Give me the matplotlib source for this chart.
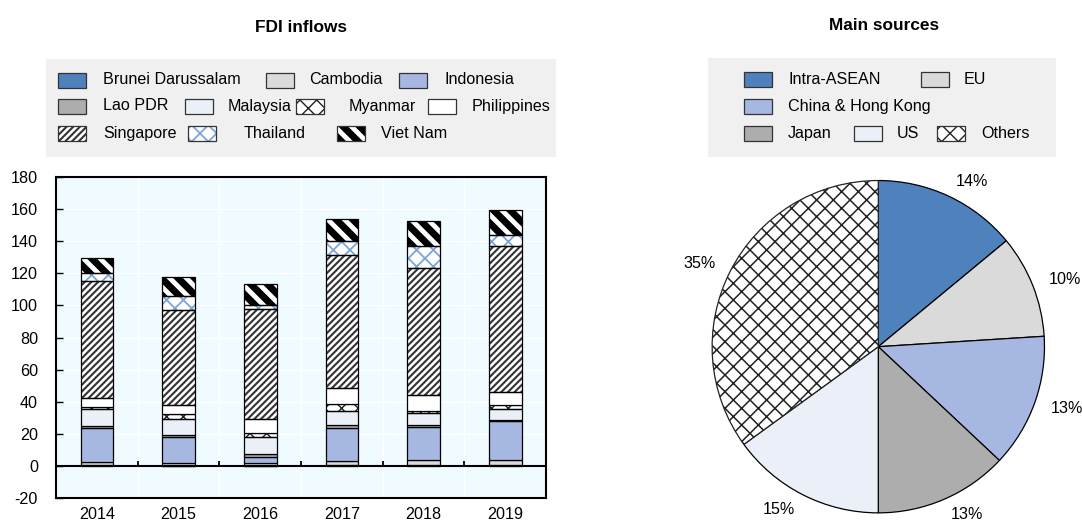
import matplotlib
matplotlib.use("Agg")
import matplotlib.pyplot as plt
from matplotlib.patches import Rectangle
from matplotlib import font_manager
import numpy as np

# ---------------- data ----------------
years = ["2014", "2015", "2016", "2017", "2018", "2019"]
countries = ["Brunei Darussalam", "Cambodia", "Indonesia", "Lao PDR", "Malaysia",
             "Myanmar", "Philippines", "Singapore", "Thailand", "Viet Nam"]
brunei = [0.6, 0.2, 0.0, 0.5, 0.5, 0.4]
cambodia = [1.9, 1.6, 2.1, 2.8, 3.2, 3.7]
indonesia = [21.5, 16.4, 3.7, 20.7, 20.6, 23.9]
lao = [1.0, 1.1, 1.5, 1.3, 1.1, 0.6]
malaysia = [10.5, 10.3, 10.9, 9.3, 7.8, 7.1]
myanmar = [1.1, 2.7, 2.7, 4.2, 1.4, 2.6]
philippines = [5.9, 6.0, 8.7, 10.1, 9.8, 7.9]
singapore = [72.5, 58.5, 68.2, 82.7, 78.9, 91.0]
thailand = [5.2, 9.1, 2.7, 8.3, 13.3, 6.3]
vietnam = [9.3, 11.8, 12.9, 14.1, 15.6, 16.1]
series = [brunei, cambodia, indonesia, lao, malaysia, myanmar, philippines,
          singapore, thailand, vietnam]

sources = ["Intra-ASEAN", "EU", "China & Hong Kong", "Japan", "US", "Others"]
shares = [14, 10, 13, 13, 15, 35]
share_labels = ["14%", "10%", "13%", "13%", "15%", "35%"]

yticks = list(range(-20, 181, 20))

# ---------------- styles ----------------
avail = {f.name for f in font_manager.fontManager.ttflist}
FONT = "Liberation Sans Narrow" if "Liberation Sans Narrow" in avail else "Liberation Sans"
plt.rcParams["font.family"] = [FONT, "DejaVu Sans"]
plt.rcParams["axes.unicode_minus"] = False
FS = 13.4 if FONT == "Liberation Sans Narrow" else 11.6
FT = FS + 0.8

# (facecolor, hatch, hatchcolor, hatch linewidth)
styles = {
    "Brunei Darussalam": ("#4f81bd", None, None, 1),
    "Cambodia": ("#dadada", None, None, 1),
    "Indonesia": ("#a6b8e2", None, None, 1),
    "Lao PDR": ("#adadad", None, None, 1),
    "Malaysia": ("#ebeff8", None, None, 1),
    "Myanmar": ("white", "xx", "#222222", 1.0),
    "Philippines": ("white", None, None, 1),
    "Singapore": ("white", "/////", "#333333", 1.5),
    "Thailand": ("white", "xx", "#7da4d8", 1.3),
    "Viet Nam": ("white", "\\\\", "black", 5.0),
}
pie_colors = ["#4f81bd", "#dadada", "#a6b8e2", "#adadad", "#ebeff8", "white"]

W, H = 1082, 525
fig = plt.figure(figsize=(W / 100, H / 100), dpi=100)


def fx(px):
    return px / W


def fy(py):
    return 1 - py / H


def set_hlw(p, lw):
    try:
        p.set_hatch_linewidth(lw)
    except Exception:
        pass


# ---------------- bar chart ----------------
ax = fig.add_axes([fx(56), fy(498.3), (546 - 56) / W, (498.3 - 176.7) / H])
ax.set_facecolor("#f0fbff")
x = np.arange(len(years))
bottom = np.zeros(len(years))
for name, vals in zip(countries, series):
    fc, hatch, hc, hlw = styles[name]
    vals = np.array(vals, dtype=float)
    if hatch:
        plt.rcParams["hatch.linewidth"] = hlw
        bars = ax.bar(x, vals, 0.4, bottom=bottom, facecolor=fc, edgecolor=hc,
                      linewidth=0, hatch=hatch, zorder=2)
        for b in bars:
            set_hlw(b, hlw)
        ax.bar(x, vals, 0.4, bottom=bottom, fill=False, edgecolor="black",
               linewidth=0.9, zorder=3)
    else:
        ax.bar(x, vals, 0.4, bottom=bottom, facecolor=fc, edgecolor="black",
               linewidth=0.9, zorder=3)
    bottom += vals

ax.set_xlim(-0.5, len(years) - 0.5)
ax.set_ylim(-20, 180)
ax.set_yticks(yticks)
ax.set_xticks(x, years)
ax.set_xticks(x[:-1] + 0.5, minor=True)
ax.tick_params(axis="y", direction="in", length=5, width=1, pad=13, labelsize=FS)
ax.tick_params(axis="x", which="both", length=0, pad=6, labelsize=FS)
ax.set_axisbelow(True)
ax.yaxis.grid(True, color="white", linewidth=1)
ax.xaxis.grid(True, which="minor", color="white", linewidth=1)
ax.axhline(0, color="black", linewidth=1.5, zorder=4)
ax.vlines(x[:-1] + 0.5, 0, 3.5, color="black", linewidth=1.3, zorder=4)
for s in ax.spines.values():
    s.set_linewidth(1.5)
    s.set_color("black")

fig.text(fx(301), fy(28), "FDI inflows", ha="center", va="center",
         fontsize=FT, fontweight="bold")

# ---------------- legends ----------------
PW, PH = 28, 15


def legend_item(px, py, tx, label, fc, hatch=None, hc=None, hlw=1.0):
    if hatch:
        plt.rcParams["hatch.linewidth"] = hlw
        r = Rectangle((fx(px), fy(py + PH / 2)), PW / W, PH / H, transform=fig.transFigure,
                      facecolor=fc, edgecolor=hc, linewidth=0, hatch=hatch)
        set_hlw(r, hlw)
        fig.patches.append(r)
        fig.patches.append(Rectangle((fx(px), fy(py + PH / 2)), PW / W, PH / H,
                                     transform=fig.transFigure, fill=False,
                                     edgecolor="#333333", linewidth=0.9))
    else:
        fig.patches.append(Rectangle((fx(px), fy(py + PH / 2)), PW / W, PH / H,
                                     transform=fig.transFigure, facecolor=fc,
                                     edgecolor="#333333", linewidth=0.9))
    fig.text(fx(tx), fy(py), label, ha="left", va="center", fontsize=FS)


fig.patches.append(Rectangle((fx(46), fy(157)), 510 / W, 98 / H, transform=fig.transFigure,
                             facecolor="#f0f0f0", edgecolor="none", zorder=0))
left_layout = [
    ("Brunei Darussalam", 58, 103, 80), ("Cambodia", 266, 309, 80), ("Indonesia", 399, 445, 80),
    ("Lao PDR", 58, 103, 106), ("Malaysia", 185, 228, 106), ("Myanmar", 296, 349, 106),
    ("Philippines", 428, 472, 106),
    ("Singapore", 58, 103, 133), ("Thailand", 188, 244, 133), ("Viet Nam", 337, 381, 133),
]
for name, px, tx, py in left_layout:
    fc, hatch, hc, hlw = styles[name]
    legend_item(px, py, tx, name, fc, hatch, hc, hlw)

fig.patches.append(Rectangle((fx(708), fy(157)), 348 / W, 99 / H, transform=fig.transFigure,
                             facecolor="#f0f0f0", edgecolor="none", zorder=0))
right_layout = [
    (0, 744, 788, 79), (1, 921, 964, 79),
    (2, 744, 788, 106),
    (3, 744, 788, 133), (4, 854, 897, 133), (5, 937, 981, 133),
]
for i, px, tx, py in right_layout:
    if sources[i] == "Others":
        legend_item(px, py, tx, sources[i], "white", "xx", "#222222", 1.0)
    else:
        legend_item(px, py, tx, sources[i], pie_colors[i])

fig.text(fx(884), fy(26), "Main sources", ha="center", va="center",
         fontsize=FT, fontweight="bold")

# ---------------- pie ----------------
R = 167
cx, cy = 878.3, 346.7
ax2 = fig.add_axes([fx(cx - R), fy(cy + R), 2 * R / W, 2 * R / H])
plt.rcParams["hatch.linewidth"] = 1.1
wedges, texts = ax2.pie(shares, colors=pie_colors, startangle=90, counterclock=False,
                        labels=share_labels, labeldistance=1.10,
                        wedgeprops=dict(edgecolor="black", linewidth=0.9),
                        textprops=dict(fontsize=FS))
wedges[-1].set_hatch("xx")
wedges[-1].set_edgecolor("#222222")
set_hlw(wedges[-1], 1.1)
ax2.set_xlim(-1.005, 1.005)
ax2.set_ylim(-1.005, 1.005)
ax2.set_aspect("equal")

fig.savefig("out.png", dpi=100)
